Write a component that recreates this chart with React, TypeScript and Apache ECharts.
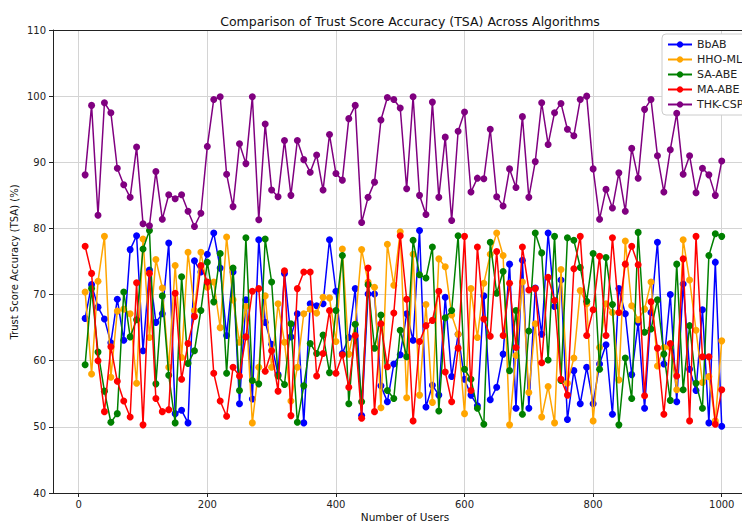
import React, { useEffect, useRef } from "react";
import * as echarts from "echarts";

const users = [10,20,30,40,50,60,70,80,90,100,110,120,130,140,150,160,170,180,190,200,210,220,230,240,250,260,270,280,290,300,310,320,330,340,350,360,370,380,390,400,410,420,430,440,450,460,470,480,490,500,510,520,530,540,550,560,570,580,590,600,610,620,630,640,650,660,670,680,690,700,710,720,730,740,750,760,770,780,790,800,810,820,830,840,850,860,870,880,890,900,910,920,930,940,950,960,970,980,990,1000];

const bbab = [66.4,71.5,68.1,66.3,62.7,69.3,63.1,76.8,78.9,61.5,73.7,65.8,67.1,77.8,52.0,52.5,50.6,75.1,73.4,76.1,79.3,74.0,63.8,73.4,53.5,69.2,54.2,78.3,65.8,62.5,57.9,73.2,63.6,67.1,50.6,68.6,68.3,68.6,78.3,70.5,61.1,63.5,70.9,51.7,70.1,70.1,56.2,53.8,59.5,60.9,67.1,63.1,79.7,53.0,56.3,54.8,69.6,57.6,64.0,57.2,54.8,53.2,69.8,54.1,56.0,61.0,74.6,52.8,75.2,52.8,71.0,64.0,79.3,68.2,72.2,51.1,58.5,53.5,59.0,53.5,59.5,62.4,51.9,70.9,67.1,57.9,65.8,52.8,67.3,77.9,59.5,70.0,53.8,71.6,58.7,55.5,67.7,50.6,74.9,50.1];

const hhoMlp = [70.4,58.0,72.0,78.8,57.5,67.5,67.8,67.1,56.6,78.4,63.5,75.3,71.0,59.0,74.4,60.5,76.4,67.6,76.4,71.1,71.9,65.0,78.7,69.2,62.8,68.2,50.6,59.0,69.8,59.0,68.6,62.8,53.9,59.0,67.1,67.8,67.2,69.6,69.5,62.9,76.9,61.0,65.5,76.8,71.9,71.1,52.9,77.6,71.4,79.5,54.4,76.1,54.8,68.5,53.7,75.4,74.2,66.9,64.0,52.0,70.9,63.5,71.7,76.1,79.3,75.9,50.3,60.8,71.9,55.2,65.6,51.5,56.1,50.6,73.8,56.6,60.4,70.6,68.6,50.9,62.0,68.6,67.3,57.1,78.1,68.3,66.2,67.8,71.9,59.2,62.0,62.0,55.6,78.3,72.2,64.6,56.7,57.6,50.9,63.0];

const saAbe = [59.4,70.9,61.3,55.4,50.7,52.0,70.4,63.6,66.2,76.9,79.7,56.5,69.8,57.8,50.6,72.7,59.6,61.5,67.6,74.9,68.9,76.2,58.1,74.0,55.5,78.6,57.0,56.5,78.4,71.9,57.7,56.4,65.6,50.7,56.2,62.6,61.1,63.9,58.2,67.6,75.9,53.5,65.5,53.8,71.5,61.9,66.9,55.5,54.3,64.6,60.6,78.2,73.0,72.5,77.2,52.4,66.5,67.6,78.9,58.7,57.2,52.8,50.4,77.9,70.2,73.5,58.5,67.6,51.9,64.5,79.3,76.3,60.1,78.8,57.0,78.6,78.2,74.1,69.0,76.2,58.7,75.6,68.5,50.3,60.4,54.3,79.4,64.3,64.8,69.2,61.0,54.0,74.6,55.6,65.3,56.6,52.8,75.9,79.2,78.8];

const maAbe = [77.3,73.2,60.0,52.3,62.1,56.9,53.9,51.5,71.8,50.3,73.2,54.3,52.3,52.6,70.2,57.2,62.6,66.7,74.4,71.9,58.1,53.9,51.6,59.0,57.7,63.6,70.5,70.9,58.4,61.5,55.4,73.6,51.7,70.9,73.4,73.4,57.7,61.1,67.6,58.1,60.9,56.0,63.8,51.3,74.0,52.3,65.6,59.1,67.2,78.9,69.3,50.9,62.9,65.3,66.1,70.5,58.3,53.8,61.9,78.8,55.5,77.2,66.3,63.7,76.5,63.8,71.7,62.0,77.2,70.7,70.9,59.7,72.6,69.1,57.2,54.8,73.9,78.8,63.8,67.7,75.8,63.8,78.6,67.3,74.6,77.3,74.5,54.7,68.9,61.9,51.9,62.6,57.7,75.4,50.9,78.8,60.6,60.6,50.4,55.6];

const thkCsp = [88.1,98.6,82.0,99.0,97.5,89.1,86.6,84.7,92.3,80.7,80.4,88.6,81.4,85.1,84.5,85.1,82.6,80.3,82.3,92.4,99.5,99.9,88.2,83.3,92.8,89.8,99.9,81.3,95.8,85.8,84.8,93.3,85.0,93.3,90.4,88.5,91.1,85.8,94.2,88.3,87.3,96.6,98.6,80.9,84.7,87.0,96.4,99.8,99.5,98.2,86.0,99.9,85.0,82.1,99.1,84.7,93.8,81.2,94.7,97.6,85.5,87.6,87.5,95.0,84.8,83.4,89.0,86.2,96.9,84.7,90.1,99.0,92.7,97.5,98.9,95.0,94.0,99.5,100.0,89.0,81.4,85.9,83.1,88.4,82.6,92.1,87.6,98.0,99.5,91.0,85.5,91.9,97.4,88.2,91.0,85.4,89.1,88.1,85.0,90.2];

const seriesNames = ["BbAB", "HHO-MLP", "SA-ABE", "MA-ABE", "THK-CSP"];
const seriesValues = [bbab, hhoMlp, saAbe, maAbe, thkCsp];
const seriesColors = ["#0000ff", "#ffa500", "#008000", "#ff0000", "#800080"];

const FONT = "DejaVu Sans";

export default function App() {
  const ref = useRef<HTMLDivElement>(null);
  useEffect(() => {
    if (!ref.current) return;
    const chart = echarts.init(ref.current, null, { renderer: "svg" });
    const xMin = -40;
    const xMax = 1031.5;
    chart.setOption({
      animation: false,
      backgroundColor: "#ffffff",
      textStyle: { fontFamily: FONT },
      title: {
        text: "Comparison of Trust Score Accuracy (TSA) Across Algorithms",
        left: 405,
        top: 10,
        textAlign: "center",
        textStyle: { fontFamily: FONT, fontSize: 12.5, fontWeight: "normal", color: "#111" },
      },
      legend: {
        orient: "vertical",
        left: 662,
        top: 34,
        itemWidth: 24,
        itemHeight: 8,
        itemGap: 4,
        padding: [5, 8, 5, 5],
        backgroundColor: "#ffffff",
        borderColor: "#cccccc",
        borderWidth: 1,
        borderRadius: 4,
        textStyle: { fontFamily: FONT, fontSize: 11, color: "#222" },
        data: seriesNames,
      },
      grid: { left: 53, right: 0, top: 30, bottom: 30 },
      xAxis: [
        {
          type: "value",
          min: xMin,
          max: xMax,
          splitNumber: 5,
          axisLine: { show: true, onZero: false, lineStyle: { color: "#222", width: 1 } },
          axisTick: { show: true, inside: false, length: 4, lineStyle: { color: "#222" } },
          axisLabel: {
            showMinLabel: false,
            showMaxLabel: false,
            margin: 6,
            fontFamily: FONT,
            fontSize: 10,
            color: "#222",
            formatter: (v: number) => (v % 200 === 0 ? String(v) : ""),
          },
          splitLine: { show: true, lineStyle: { color: "#d4d4d4", width: 1 } },
        },
        {
          type: "value",
          position: "top",
          min: xMin,
          max: xMax,
          axisLine: { show: true, onZero: false, lineStyle: { color: "#222", width: 1 } },
          axisTick: { show: false },
          axisLabel: { show: false },
          splitLine: { show: false },
        },
      ],
      yAxis: {
        type: "value",
        min: 40,
        max: 110,
        interval: 10,
        axisLine: { show: true, onZero: false, lineStyle: { color: "#222", width: 1 } },
        axisTick: { show: true, length: 4, lineStyle: { color: "#222" } },
        axisLabel: { margin: 7, fontFamily: FONT, fontSize: 10, color: "#222" },
        splitLine: { show: true, lineStyle: { color: "#d4d4d4", width: 1 } },
      },
      graphic: [
        {
          type: "text",
          x: 405,
          y: 517,
          style: {
            text: "Number of Users",
            font: `10.5px "${FONT}"`,
            fill: "#111",
            textAlign: "center",
            textVerticalAlign: "middle",
          },
        },
        {
          type: "text",
          x: 14,
          y: 262,
          rotation: Math.PI / 2,
          style: {
            text: "Trust Score Accuracy (TSA) (%)",
            font: `10px "${FONT}"`,
            fill: "#111",
            textAlign: "center",
            textVerticalAlign: "middle",
          },
        },
      ],
      series: seriesNames.map((name, k) => ({
        name,
        type: "line",
        xAxisIndex: 0,
        data: users.map((u, i) => [u, seriesValues[k][i]]),
        symbol: "circle",
        symbolSize: 7,
        showSymbol: true,
        color: seriesColors[k],
        lineStyle: { width: 1.5, color: seriesColors[k] },
        itemStyle: { color: seriesColors[k] },
        emphasis: { disabled: true },
        z: 2 + k,
      })),
    });
    return () => chart.dispose();
  }, []);
  return (
    <div
      ref={ref}
      style={{ position: "fixed", left: 0, top: 0, width: 742, height: 523 }}
    />
  );
}
